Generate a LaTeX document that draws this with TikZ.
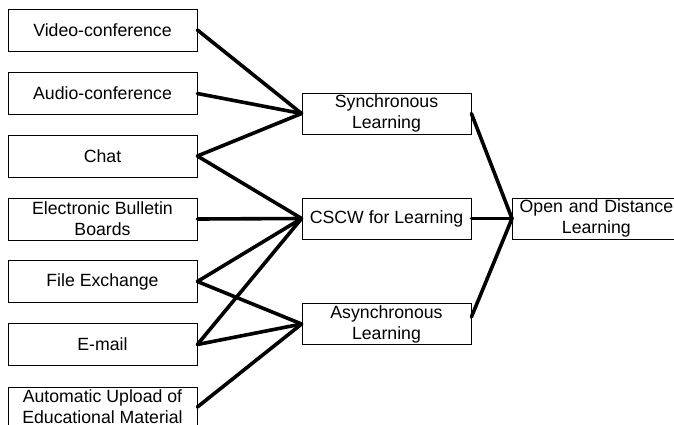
\documentclass[tikz,border=0pt]{standalone}
\usepackage{fontspec}
\setmainfont{Liberation Sans}
\begin{document}
\begin{tikzpicture}[x=1pt,y=-1pt,
  box/.style={draw=black, line width=0.8pt, rectangle, inner sep=0pt,
    align=center, font=\fontsize{17.7}{21}\selectfont},
  srcbox/.style={box, minimum width=189pt, minimum height=42pt},
  midbox/.style={box, minimum width=169pt, minimum height=41pt},
  link/.style={line width=3.6pt, line cap=round}]
\useasboundingbox (0,0) rectangle (674,424);
\clip (0,0) rectangle (674,424);

% sources
\node[srcbox] (video) at (102.5,30)   {Video-conference};
\node[srcbox] (audio) at (102.5,93.5) {Audio-conference};
\node[srcbox] (chat)  at (102.5,156)  {Chat};
\node[srcbox] (ebb)   at (102.5,219)  {Electronic Bulletin\\Boards};
\node[srcbox] (file)  at (102.5,281.5){File Exchange};
\node[srcbox] (email) at (102.5,344.5){E-mail};
\node[srcbox, minimum height=40pt] (auto) at (102.5,407)
  {Automatic Upload of\\Educational Material};

% learning modes
\node[midbox] (sync)  at (386.5,113.5) {Synchronous\\Learning};
\node[midbox] (cscw)  at (386.5,218.5) {CSCW for Learning};
\node[midbox] (async) at (386.5,324)   {Asynchronous\\Learning};

% goal (its right side runs past the edge)
\node[box, minimum height=41pt, text width=168pt, anchor=west]
  (odl) at (512,218.5) {Open and Distance\\Learning};

% connectors into the learning modes
\draw[link] (video.east) -- (sync.west);
\draw[link] (audio.east) -- (sync.west);
\draw[link] (chat.east)  -- (sync.west);
\draw[link] (chat.east)  -- (cscw.west);
\draw[link] (ebb.east)   -- (cscw.west);
\draw[link] (file.east)  -- (cscw.west);
\draw[link] (email.east) -- (cscw.west);
\draw[link] (file.east)  -- (async.west);
\draw[link] (email.east) -- (async.west);
\draw[link] (auto.east)  -- (async.west);

% connectors into the goal
\draw[link] (sync.east) -- (odl.west);
\draw[link] (cscw.east) -- (odl.west);
\draw[link] ([yshift=7pt]async.east) -- (odl.west);
\end{tikzpicture}
\end{document}
